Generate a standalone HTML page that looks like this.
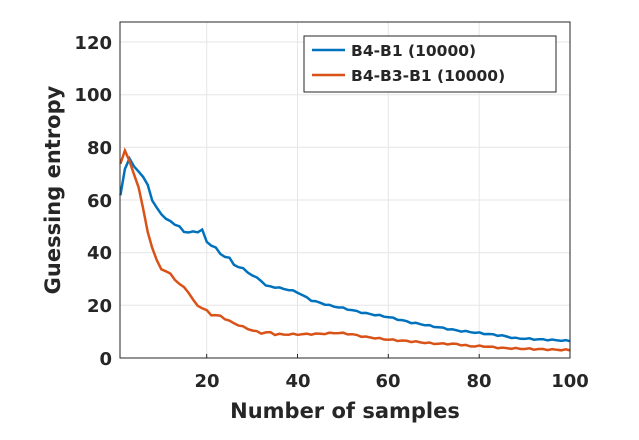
<!DOCTYPE html>
<html><head><style>body{margin:0;background:#fff}svg{display:block}text{font-family:"DejaVu Sans","Liberation Sans",sans-serif;font-weight:bold;fill:#262626}</style></head>
<body>
<svg id="s" width="639" height="440" xmlns="http://www.w3.org/2000/svg">
<rect width="639" height="440" fill="#fff"/>
<g stroke="#e6e6e6" stroke-width="1">
<line x1="206.7" y1="22" x2="206.7" y2="358"/><line x1="297.5" y1="22" x2="297.5" y2="358"/><line x1="388.3" y1="22" x2="388.3" y2="358"/><line x1="479.2" y1="22" x2="479.2" y2="358"/>
<line x1="120" y1="305.3" x2="570" y2="305.3"/><line x1="120" y1="252.7" x2="570" y2="252.7"/><line x1="120" y1="200" x2="570" y2="200"/><line x1="120" y1="147.3" x2="570" y2="147.3"/><line x1="120" y1="94.7" x2="570" y2="94.7"/><line x1="120" y1="42" x2="570" y2="42"/>
</g>
<polyline id="b" fill="none" stroke="#0072BD" stroke-width="2.5"/>
<polyline id="o" fill="none" stroke="#D95319" stroke-width="2.5"/>
<rect x="120" y="22" width="450" height="336" fill="none" stroke="#262626" stroke-width="1"/>
<g stroke="#262626"><line x1="206.7" y1="358" x2="206.7" y2="354"/><line x1="297.5" y1="358" x2="297.5" y2="354"/><line x1="388.3" y1="358" x2="388.3" y2="354"/><line x1="479.2" y1="358" x2="479.2" y2="354"/></g>
<g font-size="18" text-anchor="end">
<text x="112" y="365">0</text><text x="112" y="312">20</text><text x="112" y="259">40</text><text x="112" y="207">60</text><text x="112" y="154">80</text><text x="112" y="101">100</text><text x="112" y="49">120</text>
</g>
<g font-size="18" text-anchor="middle">
<text x="207" y="387">20</text><text x="298" y="387">40</text><text x="388" y="387">60</text><text x="479" y="387">80</text><text x="570" y="387">100</text>
</g>
<text x="345" y="418" font-size="21" text-anchor="middle">Number of samples</text>
<text transform="translate(60,190) rotate(-90)" font-size="21" text-anchor="middle">Guessing entropy</text>
<rect x="304" y="36" width="252" height="56" fill="#fff" stroke="#262626"/>
<line x1="312" y1="50" x2="345" y2="50" stroke="#0072BD" stroke-width="2.5"/>
<line x1="312" y1="75" x2="345" y2="75" stroke="#D95319" stroke-width="2.5"/>
<text x="351" y="56" font-size="15.5">B4-B1 (10000)</text>
<text x="351" y="81" font-size="15.5">B4-B3-B1 (10000)</text>
</svg>
<script>
function pts(k){var a=[],i;for(i=0;i<k.length-1;i++){var x0=k[i][0],y0=k[i][1],x1=k[i+1][0],y1=k[i+1][1];for(var x=x0;x<x1;x++){a.push([x,y0+(y1-y0)*(x-x0)/(x1-x0)]);}}a.push(k[k.length-1]);
return a.map(function(p){var j=(p[0]>8)?Math.sin(p[0]*2.3)*0.25:0;return (120.4+(p[0]-1)*4.545).toFixed(1)+","+(358-(p[1]+j)*2.625).toFixed(1)}).join(" ");}
var B=[[1,62],[2,72],[3,76],[4,73],[5,71],[6,69],[7,66],[8,60],[9,57],[10,55],[11,53],[12,52],[13,51],[14,50],[15,48],[16,48],[18,48],[19,49],[20,44],[22,42],[23,39.5],[25,38],[26,35.5],[28,34],[30,31.5],[32,29.5],[33,27.5],[35,27],[38,26],[40,25],[43,22],[45,21],[47,20],[50,19],[55,17],[60,15.6],[65,13.5],[70,12],[75,10.5],[80,9.5],[85,8.5],[88,7.5],[92,7.2],[100,6.5]];
var O=[[1,74],[2,79],[3,75],[4,70],[5,65],[6,57],[7,48],[8,42],[9,37],[10,34],[11,33],[12,32],[13,30],[14,28],[15,27],[16,25],[17,22],[18,20],[19,19],[20,18],[21,16.5],[23,16],[25,14],[27,12.5],[30,10.5],[32,9.5],[34,9.8],[35,9],[40,9],[45,9.2],[49,9.6],[52,9],[55,8],[60,7],[65,6.3],[70,5.5],[75,5.3],[78,4.5],[81,4.5],[85,3.8],[90,3.5],[100,3]];
document.getElementById('b').setAttribute('points',pts(B));
document.getElementById('o').setAttribute('points',pts(O));
</script>
</body></html>
